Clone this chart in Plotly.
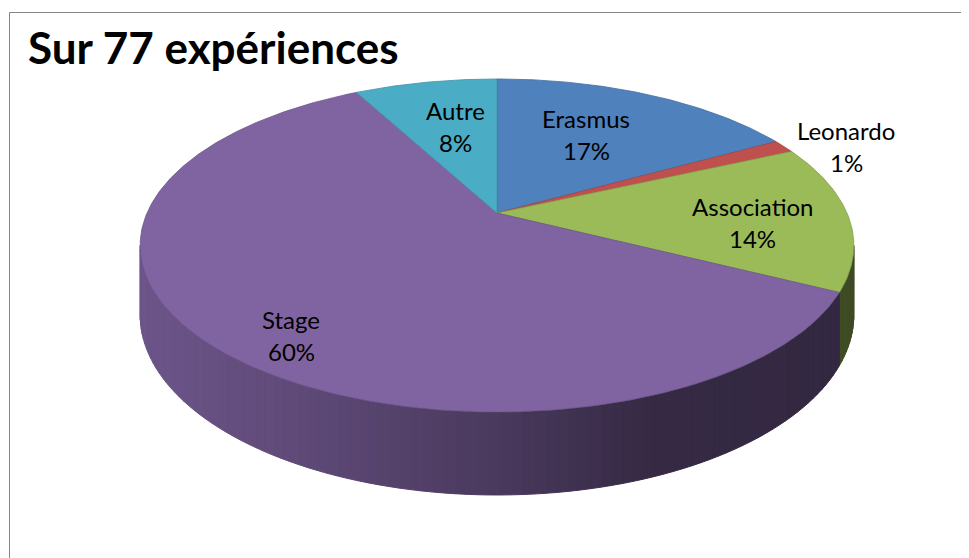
import numpy as np
import plotly.graph_objects as go

# ---- data ----
categories = ["Erasmus", "Leonardo", "Association", "Stage", "Autre"]
counts = [13, 1, 11, 46, 6]
colors = ["#4f81bd", "#c0504d", "#9bbb59", "#8064a2", "#4bacc6"]
title_text = "Sur 77 expériences"

# ---- layout / geometry config (page pixels) ----
W, H = 969, 558
OFF = 8                    # default body margin of the html page
CX, CY = 497, 213          # projected pie centre
A, B, K, D = 350, 160.2, 0.195, 66.8   # perspective ellipse params, depth
label_pos = {               # centre of each two-line label
    "Erasmus": (586, 134),
    "Leonardo": (846, 146),
    "Association": (752, 222),
    "Stage": (291, 335),
    "Autre": (455, 126),
}
FONT = "Lato"


def proj(theta_deg, r=1.0, drop=0.0):
    t = np.radians(theta_deg)
    u = r * np.sin(t)
    v = r * np.cos(t)
    den = 1 + K * v
    x = CX + A * u / den
    y = CY - B * v / den + drop * D / den
    return x, y


def hex_rgb(h):
    h = h.lstrip("#")
    return tuple(int(h[i:i + 2], 16) for i in (0, 2, 4))


def shade(x):
    return np.interp(x, [140, 300, 497, 650, 860], [0.85, 0.74, 0.58, 0.42, 0.40])


total = sum(counts)
angles = np.cumsum([0] + [360 * c / total for c in counts])
sil1 = np.degrees(np.arccos(-K))
sil2 = 360 - sil1

fig = go.Figure()

# side walls (front visible part) drawn as shaded strips
for i, cat in enumerate(categories):
    a0, a1 = angles[i], angles[i + 1]
    s0, s1 = max(a0, sil1), min(a1, sil2)
    if s1 <= s0:
        continue
    base = hex_rgb(colors[i])
    n = max(1, int(np.ceil((s1 - s0) / 1.5)))
    edges = np.linspace(s0, s1, n + 1)
    for j in range(n):
        th = np.linspace(edges[j], edges[j + 1], 4)
        xt, yt = proj(th)
        xb, yb = proj(th[::-1], drop=1.0)
        xs = np.concatenate([xt, xb, xt[:1]])
        ys = np.concatenate([yt, yb, yt[:1]])
        f = shade(xs.mean())
        col = "rgb(%d,%d,%d)" % tuple(int(c * f) for c in base)
        fig.add_trace(go.Scatter(x=xs, y=ys, mode="lines", fill="toself",
                                 fillcolor=col, line=dict(color=col, width=1),
                                 hoverinfo="skip", showlegend=False))

# top faces
for i, cat in enumerate(categories):
    a0, a1 = angles[i], angles[i + 1]
    th = np.linspace(a0, a1, max(3, int((a1 - a0) / 0.5)))
    xa, ya = proj(th)
    xs = np.concatenate([[CX], xa, [CX]])
    ys = np.concatenate([[CY], ya, [CY]])
    base = hex_rgb(colors[i])
    edge = "rgb(%d,%d,%d)" % tuple(int(c * 0.85) for c in base)
    fig.add_trace(go.Scatter(x=xs, y=ys, mode="lines", fill="toself",
                             fillcolor=colors[i], line=dict(color=edge, width=0.8),
                             hoverinfo="skip", showlegend=False, name=cat))

# labels
annotations = []
for i, cat in enumerate(categories):
    pct = "%d%%" % round(100 * counts[i] / total)
    lx, ly = label_pos[cat]
    annotations.append(dict(x=lx, y=ly - 16, text=cat, showarrow=False,
                            xref="x", yref="y", xanchor="center", yanchor="middle",
                            font=dict(family=FONT, size=24, color="#000000")))
    annotations.append(dict(x=lx, y=ly + 16, text=pct, showarrow=False,
                            xref="x", yref="y", xanchor="center", yanchor="middle",
                            font=dict(family=FONT, size=24, color="#000000")))

annotations.append(dict(x=26, y=47, text="<b>%s</b>" % title_text, showarrow=False,
                        xref="x", yref="y", xanchor="left", yanchor="middle",
                        font=dict(family=FONT, size=44, color="#000000")))

fig.update_layout(
    width=W - OFF, height=H - OFF,
    margin=dict(l=0, r=0, t=0, b=0),
    paper_bgcolor="white", plot_bgcolor="white",
    xaxis=dict(range=[OFF, W], visible=False, fixedrange=True),
    yaxis=dict(range=[H, OFF], visible=False, fixedrange=True),
    annotations=annotations,
    shapes=[dict(type="rect", xref="x", yref="y", x0=9.5, y0=12.5, x1=W + 5, y1=H + 5,
                 line=dict(color="#868686", width=1), fillcolor="rgba(0,0,0,0)",
                 layer="below")],
    showlegend=False,
)

fig.write_html("out.html")
